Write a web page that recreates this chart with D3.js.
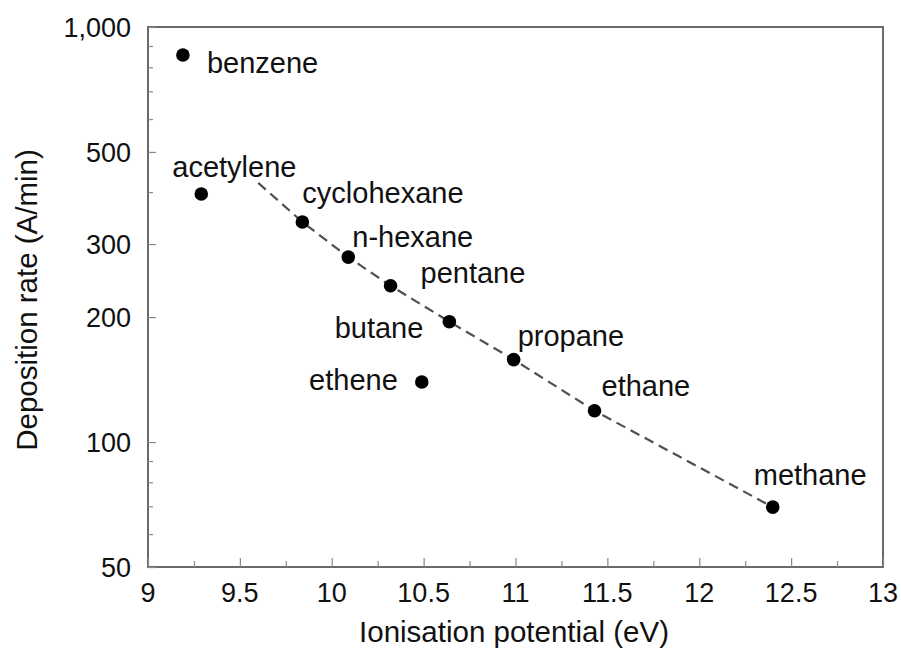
<!DOCTYPE html>
<html><head><meta charset="utf-8">
<script src="https://cdn.jsdelivr.net/npm/d3@7"></script>
<style>
html,body{margin:0;padding:0;background:#fff;}
text{font-family:"Liberation Sans",Arial,Helvetica,sans-serif;fill:#111;}
</style></head>
<body><svg id="chart" width="901" height="649"></svg>
<script>
// ---- data ----
const compounds = ["benzene","acetylene","cyclohexane","n-hexane","pentane","butane","propane","ethene","ethane","methane"];
const ionisation = [9.19, 9.29, 9.84, 10.09, 10.32, 10.64, 10.99, 10.49, 11.43, 12.40];
const depositionRate = [856, 396, 339, 279, 238, 195, 158, 139.5, 119, 69.7];
const trendIonisation = [9.60, 9.84, 10.09, 10.32, 10.64, 10.99, 11.43, 12.40];
const trendRate = [421, 339, 279, 238, 195, 158, 119, 69.7];
const xTicks = [9, 9.5, 10, 10.5, 11, 11.5, 12, 12.5, 13];
const xMinorTicks = [9.25, 9.75, 10.25, 10.75, 11.25, 11.75, 12.25, 12.75];
const yTicks = [50, 100, 200, 300, 500, 1000];
const yTickLabels = ["50", "100", "200", "300", "500", "1,000"];
const yMinorTicks = [60, 70, 80, 90, 400, 600, 700, 800, 900];
const xTitle = "Ionisation potential (eV)";
const yTitle = "Deposition rate (A/min)";

// ---- layout (not data) ----
const L = 148, R = 883, T = 27, B = 567;
const labelPlace = {
  "benzene":     {dx: 24,  dy: 18,  anchor: "start"},
  "acetylene":   {dx: -29, dy: -17, anchor: "start"},
  "cyclohexane": {dx: 0,   dy: -19, anchor: "start"},
  "n-hexane":    {dx: 4,   dy: -10, anchor: "start"},
  "pentane":     {dx: 30,  dy: -3,  anchor: "start"},
  "butane":      {dx: -26, dy: 16,  anchor: "end"},
  "propane":     {dx: 4,   dy: -14, anchor: "start"},
  "ethene":      {dx: -24, dy: 8,   anchor: "end"},
  "ethane":      {dx: 7,   dy: -15, anchor: "start"},
  "methane":     {dx: -19, dy: -22, anchor: "start"}
};

const svg = d3.select("#chart");
const x = d3.scaleLinear().domain([9, 13]).range([L, R]);
const y = d3.scaleLog().domain([50, 1000]).range([B, T]);

const axisColor = "#6a6a6a";

// frame
svg.append("rect").attr("x", L).attr("y", T).attr("width", R - L).attr("height", B - T)
  .attr("fill", "none").attr("stroke", axisColor).attr("stroke-width", 2);

// x axis ticks (inward) via d3 axis
const xAxis = svg.append("g").attr("transform", `translate(0,${B})`)
  .call(d3.axisBottom(x).tickValues(xTicks).tickSize(-9).tickPadding(0).tickFormat(""));
xAxis.select(".domain").remove();
xAxis.selectAll("line").attr("stroke", "#888").attr("stroke-width", 1.2);
const xMinor = svg.append("g").attr("transform", `translate(0,${B})`)
  .call(d3.axisBottom(x).tickValues(xMinorTicks).tickSize(-6).tickFormat(""));
xMinor.select(".domain").remove();
xMinor.selectAll("line").attr("stroke", "#888").attr("stroke-width", 1.2);

svg.append("g").selectAll("text").data(xTicks).join("text")
  .attr("x", d => x(d)).attr("y", 602)
  .attr("text-anchor", "middle").attr("font-size", 27)
  .text(d => d3.format("")(d));

// y axis ticks
const yAxis = svg.append("g").attr("transform", `translate(${L},0)`)
  .call(d3.axisLeft(y).tickValues(yTicks).tickSize(-8).tickFormat(""));
yAxis.select(".domain").remove();
yAxis.selectAll("line").attr("stroke", "#888").attr("stroke-width", 1.2);
const yMinor = svg.append("g").attr("transform", `translate(${L},0)`)
  .call(d3.axisLeft(y).tickValues(yMinorTicks).tickSize(-5).tickFormat(""));
yMinor.select(".domain").remove();
yMinor.selectAll("line").attr("stroke", "#888").attr("stroke-width", 1.2);

svg.append("g").selectAll("text").data(yTicks).join("text")
  .attr("x", 131).attr("y", d => y(d)).attr("dy", "0.36em")
  .attr("text-anchor", "end").attr("font-size", 27)
  .text((d, i) => yTickLabels[i]);

// titles
svg.append("text").attr("x", 514).attr("y", 642)
  .attr("text-anchor", "middle").attr("font-size", 29.5).text(xTitle);
svg.append("text").attr("transform", `translate(37,300) rotate(-90)`)
  .attr("text-anchor", "middle").attr("font-size", 29.5).text(yTitle);

// trend dashed line
const trend = trendIonisation.map((v, i) => [v, trendRate[i]]);
svg.append("path").datum(trend)
  .attr("d", d3.line().x(d => x(d[0])).y(d => y(d[1])))
  .attr("fill", "none").attr("stroke", "#505050").attr("stroke-width", 2.2)
  .attr("stroke-dasharray", "10,6");

// points
const pts = compounds.map((c, i) => ({name: c, ip: ionisation[i], rate: depositionRate[i]}));
svg.append("g").selectAll("circle").data(pts).join("circle")
  .attr("cx", d => x(d.ip)).attr("cy", d => y(d.rate)).attr("r", 6.8).attr("fill", "#000");

svg.append("g").selectAll("text").data(pts).join("text")
  .attr("x", d => x(d.ip) + labelPlace[d.name].dx)
  .attr("y", d => y(d.rate) + labelPlace[d.name].dy)
  .attr("text-anchor", d => labelPlace[d.name].anchor)
  .attr("font-size", 29)
  .text(d => d.name);
</script></body></html>
